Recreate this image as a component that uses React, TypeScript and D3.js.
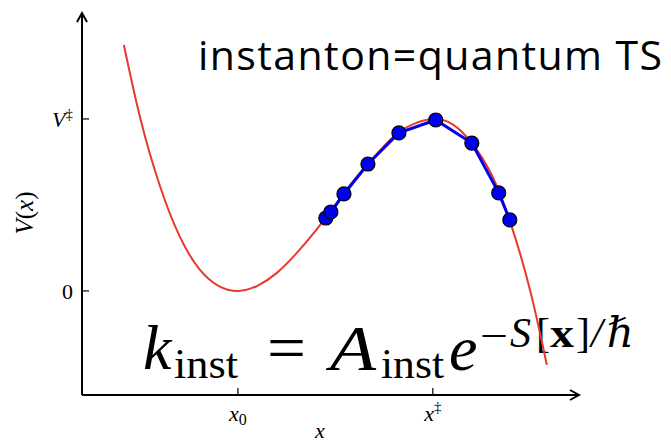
import React from 'react';
import * as d3 from 'd3';

// Potential energy curve V(x), in units where x0 = 0, x‡ = 1 and V‡ = 1
const potentialX = [-0.585, -0.5, -0.4, -0.3, -0.2, -0.1, 0, 0.1, 0.2, 0.3, 0.4, 0.5, 0.6, 0.7, 0.8, 0.9, 1.0, 1.1, 1.2, 1.3, 1.4, 1.5, 1.585];
const potentialV = [1.43, 1.0, 0.61, 0.32, 0.13, 0.03, 0, 0.03, 0.105, 0.218, 0.352, 0.5, 0.65, 0.78, 0.9, 0.97, 1.0, 0.97, 0.86, 0.68, 0.39, 0.0, -0.43];

// Ring-polymer beads of the instanton path
const beadX = [0.451, 0.477, 0.544, 0.667, 0.826, 1.015, 1.2, 1.338, 1.395];
const beadV = [0.424, 0.459, 0.564, 0.738, 0.919, 0.994, 0.86, 0.57, 0.413];

const xTickValues = [0, 1];
const xTickLabels = [{ base: 'x', sub: '0', sup: '' }, { base: 'x', sub: '', sup: '‡' }];
const yTickValues = [0, 1];
const yTickLabels = [{ base: '0', sup: '', italic: false }, { base: 'V', sup: '‡', italic: true }];

const titleText = 'instanton=quantum TS';

const W = 671;
const H = 443;
const serif = '"Liberation Serif", "DejaVu Serif", serif';

export default function App() {
  const x = d3.scaleLinear().domain([-0.8, 1.75]).range([82, 579]);
  const y = d3.scaleLinear().domain([-0.605, 1.616]).range([395, 13]);

  const curve = d3
    .line<number>()
    .x((_, i) => x(potentialX[i]))
    .y((v) => y(v))
    .curve(d3.curveNatural)(potentialV) as string;

  const path = d3
    .line<number>()
    .x((_, i) => x(beadX[i]))
    .y((v) => y(v))(beadV) as string;

  const [x0, x1] = x.range();
  const [yb, yt] = y.range();

  return (
    <svg width={W} height={H} style={{ position: 'absolute', left: 0, top: 0, display: 'block', background: '#fff' }}>
      {/* axes with open arrowheads */}
      <g stroke="#000" strokeWidth={2} fill="none" strokeLinecap="butt">
        <line x1={x0} y1={yb} x2={x1} y2={yb} />
        <line x1={x0} y1={yb} x2={x0} y2={yt} />
        <polyline points={`${x1 - 9},${yb - 5} ${x1},${yb} ${x1 - 9},${yb + 5}`} strokeLinejoin="miter" />
        <polyline points={`${x0 - 5},${yt + 9} ${x0},${yt} ${x0 + 5},${yt + 9}`} strokeLinejoin="miter" />
      </g>

      {/* ticks */}
      <g stroke="#000" strokeWidth={1.2}>
        {xTickValues.map((v) => (
          <line key={`xt${v}`} x1={x(v)} x2={x(v)} y1={yb} y2={yb - 7} />
        ))}
        {yTickValues.map((v) => (
          <line key={`yt${v}`} x1={x0} x2={x0 + 7} y1={y(v)} y2={y(v)} />
        ))}
      </g>

      {/* tick labels */}
      <g fontFamily={serif} fill="#000">
        {xTickValues.map((v, i) => {
          const lab = xTickLabels[i];
          return (
            <text key={`xl${v}`} x={x(v)} y={421} fontSize={22} textAnchor="middle">
              <tspan fontStyle="italic">{lab.base}</tspan>
              {lab.sub && (
                <tspan fontSize={16} dy={4}>
                  {lab.sub}
                </tspan>
              )}
              {lab.sup && (
                <tspan fontSize={15} dy={-9}>
                  {lab.sup}
                </tspan>
              )}
            </text>
          );
        })}
        {yTickValues.map((v, i) => {
          const lab = yTickLabels[i];
          return (
            <text key={`yl${v}`} x={73} y={y(v) + 8} fontSize={22} textAnchor="end">
              <tspan fontStyle={lab.italic ? 'italic' : 'normal'}>{lab.base}</tspan>
              {lab.sup && (
                <tspan fontSize={15} dy={-8}>
                  {lab.sup}
                </tspan>
              )}
            </text>
          );
        })}
        <text x={320} y={438} fontSize={22} fontStyle="italic" textAnchor="middle">
          x
        </text>
        <text transform="translate(33,213) rotate(-90)" fontSize={25} textAnchor="middle">
          <tspan fontStyle="italic">V</tspan>
          <tspan>(</tspan>
          <tspan fontStyle="italic">x</tspan>
          <tspan>)</tspan>
        </text>
      </g>

      {/* title */}
      <text
        x={198}
        y={70}
        fontFamily='"Open Sans", "Noto Sans", sans-serif'
        fontSize={41}
        fill="#000"
        textLength={464}
        lengthAdjust="spacing"
      >
        {titleText}
      </text>

      {/* rate expression */}
      <g fontFamily={serif} fill="#000">
        <text x={143} y={369} fontSize={64} fontStyle="italic">k</text>
        <text x={174} y={378} fontSize={42} textLength={64} lengthAdjust="spacingAndGlyphs">inst</text>
        <text x={267} y={369} fontSize={64} textLength={39} lengthAdjust="spacingAndGlyphs">=</text>
        <text x={330} y={370} fontSize={64} fontStyle="italic" textLength={46} lengthAdjust="spacingAndGlyphs">A</text>
        <text x={381} y={378} fontSize={42} textLength={63} lengthAdjust="spacingAndGlyphs">inst</text>
        <text x={449} y={370} fontSize={64} fontStyle="italic">e</text>
        <text x={480} y={350} fontSize={42} textLength={28} lengthAdjust="spacingAndGlyphs">−</text>
        <text x={510} y={347} fontSize={42} fontStyle="italic">S</text>
        <text x={536} y={347} fontSize={42}>[</text>
        <text x={550} y={347} fontSize={42} fontWeight="bold" textLength={24} lengthAdjust="spacingAndGlyphs">x</text>
        <text x={576} y={347} fontSize={42}>]</text>
        <text x={591} y={347} fontSize={42} fontStyle="italic">/</text>
        <text x={607} y={347} fontSize={42} fontStyle="italic">ℏ</text>
      </g>

      {/* potential */}
      <path d={curve} fill="none" stroke="#e8392b" strokeWidth={2} />

      {/* instanton path */}
      <path d={path} fill="none" stroke="#0000f0" strokeWidth={3} />
      {beadV.map((v, i) => (
        <circle key={i} cx={x(beadX[i])} cy={y(v)} r={7} fill="#0000f0" stroke="#000" strokeWidth={1.2} />
      ))}
    </svg>
  );
}
